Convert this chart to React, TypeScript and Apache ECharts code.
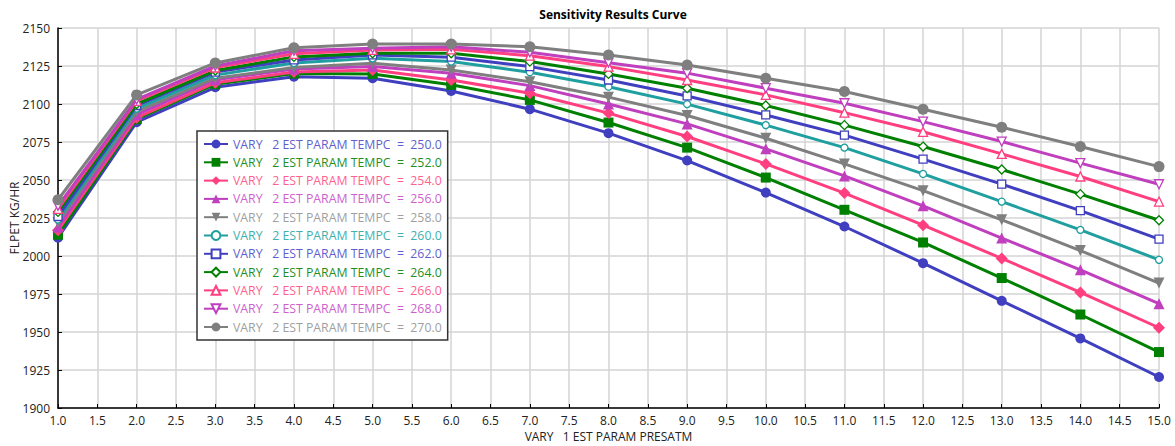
import React, { useEffect, useRef } from "react";
import * as echarts from "echarts";

const xValues = [1, 2, 3, 4, 5, 6, 7, 8, 9, 10, 11, 12, 13, 14, 15];
const tempLabels = ["250.0", "252.0", "254.0", "256.0", "258.0", "260.0", "262.0", "264.0", "266.0", "268.0", "270.0"];

const s250 = [2012, 2088, 2111, 2118, 2117, 2108.6, 2096.6, 2080.8, 2062.8, 2041.7, 2019.4, 1995.3, 1970.5, 1945.8, 1920.4];
const s252 = [2014, 2090, 2113, 2120, 2119.8, 2112.6, 2102.7, 2087.8, 2071.3, 2051.6, 2030.4, 2008.9, 1985.5, 1961.5, 1936.8];
const s254 = [2017, 2091, 2114, 2121, 2122.4, 2115.8, 2107.1, 2094, 2078.6, 2060.6, 2041.4, 2020.3, 1998.4, 1976, 1952.8];
const s256 = [2019, 2093, 2116, 2123, 2124.6, 2120.3, 2112.1, 2100, 2086.9, 2070.5, 2052.7, 2033, 2011.8, 1990.9, 1968.6];
const s258 = [2022, 2095, 2117, 2124, 2126.8, 2122.4, 2114.7, 2104.5, 2092.4, 2077.5, 2060.6, 2043, 2023.8, 2003.6, 1982.2];
const s260 = [2024, 2097, 2119, 2127, 2130.1, 2127.9, 2120.9, 2111.4, 2099.9, 2086.1, 2071.3, 2054, 2035.8, 2017.2, 1997.5];
const s262 = [2026, 2099, 2121, 2129, 2132.3, 2130.8, 2124.6, 2115.8, 2105.3, 2092.8, 2079.5, 2063.7, 2047.3, 2029.8, 2011.1];
const s264 = [2029, 2100, 2122, 2131, 2133.4, 2133.4, 2127.9, 2119.8, 2110.4, 2099, 2086.1, 2072, 2056.9, 2040.7, 2023.5];
const s266 = [2031, 2102, 2124, 2133, 2135.6, 2136, 2131.8, 2124.6, 2115.8, 2106, 2094.3, 2081.7, 2067.2, 2052.3, 2035.8];
const s268 = [2033, 2103, 2125, 2135, 2136.7, 2137.7, 2134, 2127.2, 2120.3, 2110.4, 2100.5, 2088.4, 2075.3, 2061.1, 2047.2];
const s270 = [2037, 2106, 2127, 2137, 2139.5, 2139.5, 2137.7, 2132.3, 2125.7, 2117, 2108.2, 2096.6, 2084.7, 2072, 2058.8];

const seriesValues = [s250, s252, s254, s256, s258, s260, s262, s264, s266, s268, s270];

const lineColors = ["#3f3fbf", "#008000", "#ff3f7f", "#bf3fbf", "#7f7f7f", "#1f9f9f", "#3f3fbf", "#008000", "#ff3f7f", "#bf3fbf", "#7f7f7f"];
const textColors = ["#5f5fcf", "#1f8f1f", "#ff5f8f", "#cf5fcf", "#9f9f9f", "#3fafaf", "#5f5fcf", "#1f8f1f", "#ff5f8f", "#cf5fcf", "#9f9f9f"];
const symbols = ["circle", "rect", "diamond", "triangle", "triangle", "circle", "rect", "diamond", "triangle", "triangle", "circle"];
const rotations = [0, 0, 0, 0, 180, 0, 0, 0, 0, 180, 0];
const hollow = [false, false, false, false, false, true, true, true, true, true, false];
const sizes = [10, 10, 12, 11, 11, 7, 8, 9, 9, 9, 11];

const FONT = "'Open Sans', 'Noto Sans', sans-serif";
const NB = "\u00a0";

function seriesName(t: string) {
  return `VARY${NB}${NB}${NB}2 EST PARAM TEMPC${NB}${NB}=${NB}${NB}${t}`;
}

export default function App() {
  const ref = useRef<HTMLDivElement>(null);

  useEffect(() => {
    if (!ref.current) return;
    const chart = echarts.init(ref.current, undefined, { renderer: "svg" });

    const series = seriesValues.map((vals, i) => ({
      name: seriesName(tempLabels[i]),
      type: "line",
      data: vals.map((v, j) => [xValues[j], v]),
      symbol: symbols[i],
      symbolSize: sizes[i],
      symbolRotate: rotations[i],
      showAllSymbol: true,
      lineStyle: { color: lineColors[i], width: 3 },
      itemStyle: hollow[i]
        ? { color: "#ffffff", borderColor: lineColors[i], borderWidth: 1.3 }
        : { color: lineColors[i], borderColor: lineColors[i], borderWidth: 0 },
      z: 2 + i,
    }));

    chart.setOption({
      animation: false,
      backgroundColor: "#ffffff",
      title: {
        text: "Sensitivity Results Curve",
        left: 608,
        textAlign: "center",
        top: 3,
        textStyle: { fontFamily: FONT, fontSize: 12, fontWeight: "bold", color: "#000" },
      },
      grid: { left: 58, right: 16, top: 28, bottom: 38, containLabel: false, outerBoundsMode: "none" },
      legend: {
        orient: "vertical",
        left: 197,
        top: 131,
        padding: [7, 6, 7, 6],
        itemWidth: 24,
        itemHeight: 11,
        itemGap: 6.3,
        backgroundColor: "#ffffff",
        borderColor: "#333333",
        borderWidth: 1.5,
        textStyle: { fontFamily: FONT, fontSize: 12.3 },
        data: tempLabels.map((t, i) => ({
          name: seriesName(t),
          textStyle: { color: textColors[i], fontFamily: FONT, fontSize: 12.3 },
        })),
      },
      xAxis: {
        type: "value",
        min: 1,
        max: 15,
        interval: 0.5,
        name: `VARY${NB}${NB}${NB}1 EST PARAM PRESATM`,
        nameLocation: "middle",
        nameGap: 22,
        nameMoveOverlap: false,
        nameTextStyle: { fontFamily: FONT, fontSize: 12, color: "#222" },
        axisLine: { lineStyle: { color: "#000", width: 1.5 } },
        axisTick: { inside: true, length: 4, lineStyle: { color: "#000" } },
        axisLabel: {
          fontFamily: FONT,
          fontSize: 12,
          color: "#222",
          margin: 6,
          formatter: (v: number) => v.toFixed(1),
        },
        splitLine: { show: true, lineStyle: { color: "#d4d4d4", width: 1.5 } },
      },
      yAxis: {
        type: "value",
        min: 1900,
        max: 2150,
        interval: 25,
        name: "FLPET KG/HR",
        nameLocation: "middle",
        nameGap: 38,
        nameMoveOverlap: false,
        nameTextStyle: { fontFamily: FONT, fontSize: 12, color: "#222" },
        axisLine: { show: true, lineStyle: { color: "#000", width: 1.5 } },
        axisTick: { show: true, inside: true, length: 4, lineStyle: { color: "#000" } },
        axisLabel: { fontFamily: FONT, fontSize: 12, color: "#222", margin: 8, formatter: (v: number) => String(v) },
        splitLine: { show: true, lineStyle: { color: "#d4d4d4", width: 1.5 } },
      },
      series,
    });

    return () => chart.dispose();
  }, []);

  return (
    <div
      ref={ref}
      style={{ position: "absolute", left: 0, top: 0, width: 1175, height: 446 }}
    />
  );
}
